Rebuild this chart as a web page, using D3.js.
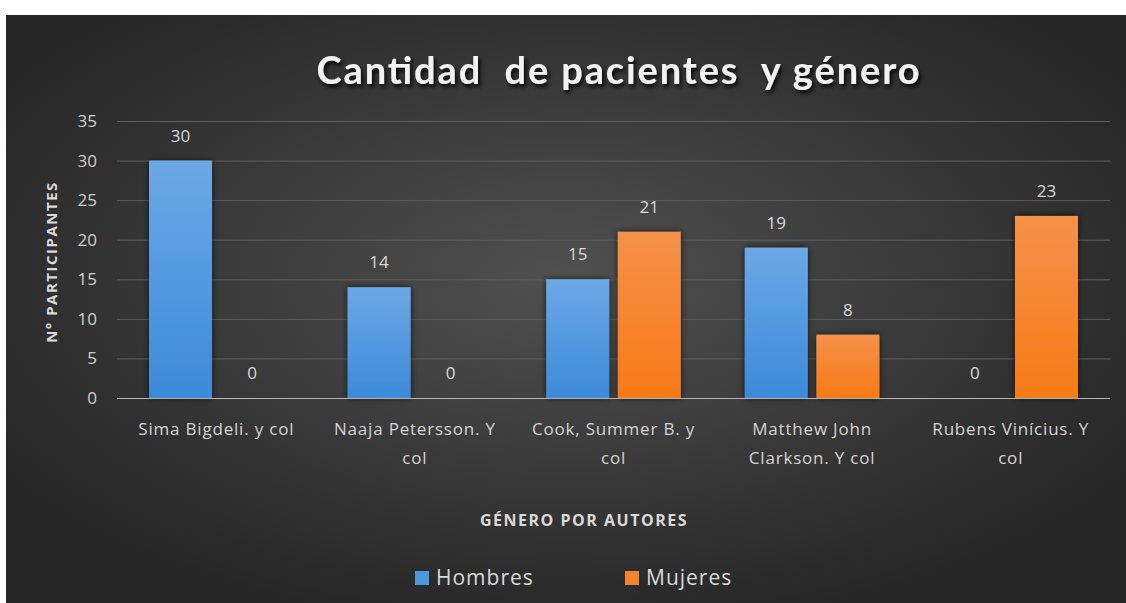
<html>
<head>
<meta charset="utf-8">
<script src="https://d3js.org/d3.v7.min.js"></script>
<style>
	body { margin: 0; background: #fff; }
	text { font-family: "Open Sans", Lato, sans-serif; }
</style>
</head>
<body>
<div id="chart"></div>
<script>
var categories = [
	["Sima Bigdeli. y col"],
	["Naaja Petersson. Y", "col"],
	["Cook, Summer B. y", "col"],
	["Matthew John", "Clarkson. Y col"],
	["Rubens Vinícius. Y", "col"]
]
var seriesNames = ["Hombres", "Mujeres"]
var hombres = [30, 14, 15, 19, 0]
var mujeres = [0, 0, 21, 8, 23]
var yTicks = [0, 5, 10, 15, 20, 25, 30, 35]

var width = 1126
var height = 603
var plot = { left: 117, right: 1110, top: 121, bottom: 398 }

var svg = d3.select("#chart")
	.append("svg")
	.attr("width", width)
	.attr("height", height)

var defs = svg.append("defs")

var bg = defs.append("radialGradient")
	.attr("id", "bg")
	.attr("cx", "50%").attr("cy", "45%").attr("r", "60%")
bg.append("stop").attr("offset", "0%").attr("stop-color", "#505050")
bg.append("stop").attr("offset", "100%").attr("stop-color", "#262626")

var blueGrad = defs.append("linearGradient")
	.attr("id", "blueGrad").attr("x1", 0).attr("y1", 0).attr("x2", 0).attr("y2", 1)
blueGrad.append("stop").attr("offset", "0%").attr("stop-color", "#6ca8e6")
blueGrad.append("stop").attr("offset", "100%").attr("stop-color", "#3c8ad9")

var orangeGrad = defs.append("linearGradient")
	.attr("id", "orangeGrad").attr("x1", 0).attr("y1", 0).attr("x2", 0).attr("y2", 1)
orangeGrad.append("stop").attr("offset", "0%").attr("stop-color", "#f5914a")
orangeGrad.append("stop").attr("offset", "100%").attr("stop-color", "#f77a16")

var shadow = defs.append("filter").attr("id", "shadow")
	.attr("x", "-20%").attr("y", "-20%").attr("width", "140%").attr("height", "140%")
shadow.append("feDropShadow")
	.attr("dx", 0).attr("dy", 0).attr("stdDeviation", 3)
	.attr("flood-color", "#000").attr("flood-opacity", 0.7)

var textShadow = defs.append("filter").attr("id", "textShadow")
	.attr("x", "-10%").attr("y", "-30%").attr("width", "120%").attr("height", "160%")
textShadow.append("feDropShadow")
	.attr("dx", 2).attr("dy", 3).attr("stdDeviation", 2)
	.attr("flood-color", "#000").attr("flood-opacity", 0.9)

svg.append("rect")
	.attr("x", 6).attr("y", 15)
	.attr("width", width - 6).attr("height", height - 15)
	.style("fill", "url(#bg)")

var x0 = d3.scaleBand()
	.domain(d3.range(categories.length))
	.range([plot.left, plot.right])

var x1 = d3.scaleBand()
	.domain(seriesNames)
	.range([32, x0.bandwidth() - 32])
	.paddingInner(0.12)

var y = d3.scaleLinear()
	.domain([0, 35])
	.range([plot.bottom, plot.top])

var color = { "Hombres": "url(#blueGrad)", "Mujeres": "url(#orangeGrad)" }
var legendColor = { "Hombres": "#4f97dd", "Mujeres": "#f4832a" }

// gridlines
svg.append("g")
	.selectAll("line")
	.data(yTicks.filter(function(d){ return d > 0 }))
	.enter()
	.append("line")
	.attr("x1", plot.left).attr("x2", plot.right)
	.attr("y1", function(d){ return y(d) + 0.5 })
	.attr("y2", function(d){ return y(d) + 0.5 })
	.style("stroke", "#5e5e5e")
	.style("stroke-width", 1)

// y tick labels
svg.append("g")
	.selectAll("text")
	.data(yTicks)
	.enter()
	.append("text")
	.attr("x", 97)
	.attr("y", function(d){ return y(d) })
	.attr("dy", "0.35em")
	.attr("text-anchor", "end")
	.style("font-size", "17px")
	.style("fill", "#d0d0d0")
	.text(function(d){ return d })

// bars
var rows = categories.map(function(c, i){
	return [{ s: "Hombres", v: hombres[i] }, { s: "Mujeres", v: mujeres[i] }]
})

var groups = svg.append("g")
	.selectAll("g")
	.data(rows)
	.enter()
	.append("g")
	.attr("transform", function(d, i){ return "translate(" + x0(i) + ",0)" })

groups.selectAll("rect")
	.data(function(d){ return d })
	.enter()
	.append("rect")
	.attr("x", function(d){ return x1(d.s) })
	.attr("width", x1.bandwidth())
	.attr("y", function(d){ return y(d.v) })
	.attr("height", function(d){ return y(0) - y(d.v) })
	.style("fill", function(d){ return color[d.s] })
	.attr("filter", "url(#shadow)")

groups.selectAll("text")
	.data(function(d){ return d })
	.enter()
	.append("text")
	.attr("x", function(d){ return x1(d.s) + x1.bandwidth() / 2 })
	.attr("y", function(d){ return y(d.v) - 25 })
	.attr("dy", "0.35em")
	.attr("text-anchor", "middle")
	.style("font-size", "17px")
	.style("fill", "#d9d9d9")
	.text(function(d){ return d.v })

// baseline
svg.append("line")
	.attr("x1", plot.left).attr("x2", plot.right)
	.attr("y1", plot.bottom + 0.5).attr("y2", plot.bottom + 0.5)
	.style("stroke", "#b5b5b5")
	.style("stroke-width", 1.2)

// category labels
var catLabels = svg.append("g")
	.selectAll("text")
	.data(categories)
	.enter()
	.append("text")
	.attr("text-anchor", "middle")
	.style("font-size", "17px")
	.style("letter-spacing", "0.8px")
	.style("fill", "#d4d4d4")

catLabels.selectAll("tspan")
	.data(function(d, i){ return d.map(function(line){ return { line: line, i: i } }) })
	.enter()
	.append("tspan")
	.attr("x", function(d){ return x0(d.i) + x0.bandwidth() / 2 })
	.attr("y", function(d, j){ return 429 + j * 29 })
	.attr("dy", "0.35em")
	.text(function(d){ return d.line })

// title
svg.append("text")
	.attr("x", 618)
	.attr("y", 71)
	.attr("dy", "0.35em")
	.attr("text-anchor", "middle")
	.attr("filter", "url(#textShadow)")
	.attr("textLength", 603)
	.attr("lengthAdjust", "spacing")
	.style("font-family", "Lato, sans-serif")
	.style("font-size", "38px")
	.style("font-weight", "bold")
	.style("fill", "#f2f2f2")
	.style("white-space", "pre")
	.attr("xml:space", "preserve")
	.text("Cantidad  de pacientes  y género")

// axis titles
svg.append("text")
	.attr("transform", "translate(52,262) rotate(-90)")
	.attr("dy", "0.35em")
	.attr("text-anchor", "middle")
	.style("font-size", "15px")
	.style("font-weight", "bold")
	.style("letter-spacing", "1.5px")
	.style("fill", "#d9d9d9")
	.text("N° PARTICIPANTES")

svg.append("text")
	.attr("x", 584)
	.attr("y", 520)
	.attr("dy", "0.35em")
	.attr("text-anchor", "middle")
	.style("font-size", "16px")
	.style("font-weight", "bold")
	.style("letter-spacing", "1.5px")
	.style("fill", "#d9d9d9")
	.text("GÉNERO POR AUTORES")

// legend
var legendX = [415, 625]
var legend = svg.append("g")
	.selectAll("g")
	.data(seriesNames)
	.enter()
	.append("g")
	.attr("transform", function(d, i){ return "translate(" + legendX[i] + ",578)" })

legend.append("rect")
	.attr("x", 0).attr("y", -7)
	.attr("width", 14).attr("height", 14)
	.style("fill", function(d){ return legendColor[d] })

legend.append("text")
	.attr("x", 21)
	.attr("dy", "0.35em")
	.style("font-size", "21px")
	.style("letter-spacing", "1px")
	.style("fill", "#d9d9d9")
	.text(function(d){ return d })
</script>
</body>
</html>
